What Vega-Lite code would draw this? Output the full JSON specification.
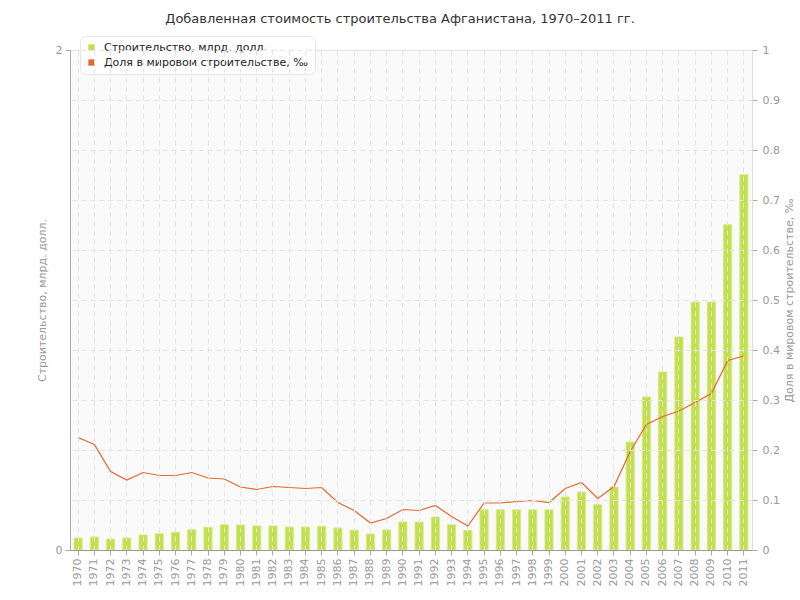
{
  "$schema": "https://vega.github.io/schema/vega-lite/v6.json",
  "autosize": {"type": "none"},
  "width": 682,
  "height": 500,
  "padding": {"left": 70, "top": 50, "right": 48, "bottom": 50},
  "background": "white",
  "title": {
    "text": "Добавленная стоимость строительства Афганистана, 1970–2011 гг.",
    "font": "DejaVu Sans",
    "fontSize": 13,
    "fontWeight": "normal",
    "color": "#333333",
    "anchor": "middle",
    "dx": -11,
    "offset": 10
  },
  "config": {
    "font": "DejaVu Sans",
    "view": {"fill": "#fafafa", "stroke": "#e2e2e2"},
    "axis": {
      "labelFont": "DejaVu Sans",
      "labelFontSize": 11,
      "labelColor": "#999999",
      "titleFont": "DejaVu Sans",
      "titleFontSize": 11,
      "titleFontWeight": "normal",
      "titleColor": "#999999",
      "domainColor": "#aaaaaa",
      "tickColor": "#aaaaaa",
      "tickSize": 5,
      "gridColor": "#e4e4e4",
      "gridDash": [5, 4]
    }
  },
  "data": {
    "values": [
      {"year": "1970", "build": 0.048, "share": 0.225},
      {"year": "1971", "build": 0.052, "share": 0.211},
      {"year": "1972", "build": 0.044, "share": 0.157},
      {"year": "1973", "build": 0.048, "share": 0.140},
      {"year": "1974", "build": 0.060, "share": 0.155},
      {"year": "1975", "build": 0.065, "share": 0.149},
      {"year": "1976", "build": 0.071, "share": 0.149},
      {"year": "1977", "build": 0.081, "share": 0.155},
      {"year": "1978", "build": 0.091, "share": 0.144},
      {"year": "1979", "build": 0.101, "share": 0.142},
      {"year": "1980", "build": 0.100, "share": 0.126},
      {"year": "1981", "build": 0.096, "share": 0.121},
      {"year": "1982", "build": 0.096, "share": 0.127},
      {"year": "1983", "build": 0.092, "share": 0.125},
      {"year": "1984", "build": 0.092, "share": 0.123},
      {"year": "1985", "build": 0.095, "share": 0.125},
      {"year": "1986", "build": 0.088, "share": 0.095},
      {"year": "1987", "build": 0.079, "share": 0.079},
      {"year": "1988", "build": 0.064, "share": 0.054},
      {"year": "1989", "build": 0.080, "share": 0.063},
      {"year": "1990", "build": 0.112, "share": 0.081},
      {"year": "1991", "build": 0.112, "share": 0.079},
      {"year": "1992", "build": 0.132, "share": 0.089},
      {"year": "1993", "build": 0.101, "share": 0.067},
      {"year": "1994", "build": 0.079, "share": 0.048},
      {"year": "1995", "build": 0.161, "share": 0.094},
      {"year": "1996", "build": 0.161, "share": 0.094},
      {"year": "1997", "build": 0.161, "share": 0.097},
      {"year": "1998", "build": 0.161, "share": 0.099},
      {"year": "1999", "build": 0.161, "share": 0.095},
      {"year": "2000", "build": 0.212, "share": 0.123},
      {"year": "2001", "build": 0.232, "share": 0.135},
      {"year": "2002", "build": 0.182, "share": 0.103},
      {"year": "2003", "build": 0.252, "share": 0.127},
      {"year": "2004", "build": 0.432, "share": 0.197},
      {"year": "2005", "build": 0.612, "share": 0.251},
      {"year": "2006", "build": 0.712, "share": 0.267},
      {"year": "2007", "build": 0.852, "share": 0.278},
      {"year": "2008", "build": 0.992, "share": 0.295},
      {"year": "2009", "build": 0.992, "share": 0.313},
      {"year": "2010", "build": 1.301, "share": 0.379},
      {"year": "2011", "build": 1.501, "share": 0.388}
    ]
  },
  "encoding": {
    "x": {
      "field": "year",
      "type": "ordinal",
      "scale": {"paddingInner": 0.5, "paddingOuter": 0.25},
      "axis": {
        "title": null,
        "labelAngle": -90,
        "labelPadding": 3,
        "grid": true,
        "zindex": 1,
        "domainColor": "#999999"
      }
    }
  },
  "layer": [
    {
      "mark": {"type": "bar", "stroke": "#d6ea86", "strokeWidth": 1},
      "encoding": {
        "y": {
          "field": "build",
          "type": "quantitative",
          "scale": {"domain": [0, 2], "nice": false},
          "axis": {
            "title": "Строительство, млрд. долл.",
            "values": [0, 1, 2],
            "format": "d",
            "grid": false,
            "titlePadding": 8,
            "labelPadding": 3
          }
        },
        "color": {
          "datum": "Строительство, млрд. долл.",
          "type": "nominal",
          "scale": {
            "domain": ["Строительство, млрд. долл.", "Доля в мировом строительстве, ‰"],
            "range": ["#c4df4c", "#e8652e"]
          },
          "legend": {
            "title": null,
            "orient": "none",
            "legendX": 10,
            "legendY": -14,
            "symbolType": "square",
            "symbolSize": 40,
            "symbolStrokeWidth": 0,
            "labelFont": "DejaVu Sans",
            "labelFontSize": 11,
            "labelColor": "#222222",
            "labelLimit": 400,
            "fillColor": "#ffffff",
            "strokeColor": "#e6e6e6",
            "cornerRadius": 6,
            "padding": 6,
            "rowPadding": 3,
            "labelOffset": 7,
            "encode": {
              "symbols": {"update": {"fill": {"scale": "color", "field": "value"}, "strokeWidth": {"value": 0}}}
            }
          }
        }
      }
    },
    {
      "mark": {"type": "line", "strokeWidth": 1.2},
      "encoding": {
        "y": {
          "field": "share",
          "type": "quantitative",
          "scale": {"domain": [0, 1], "nice": false},
          "axis": {
            "orient": "right",
            "title": "Доля в мировом строительстве, ‰",
            "titleAngle": 270,
            "titleBaseline": "top",
            "values": [0, 0.1, 0.2, 0.3, 0.4, 0.5, 0.6, 0.7, 0.8, 0.9, 1],
            "format": "~g",
            "grid": true,
            "zindex": 1,
            "domainColor": "#dddddd",
            "titlePadding": 4,
            "labelPadding": 5
          }
        },
        "color": {"datum": "Доля в мировом строительстве, ‰", "type": "nominal"}
      }
    }
  ],
  "resolve": {"scale": {"y": "independent"}}
}
